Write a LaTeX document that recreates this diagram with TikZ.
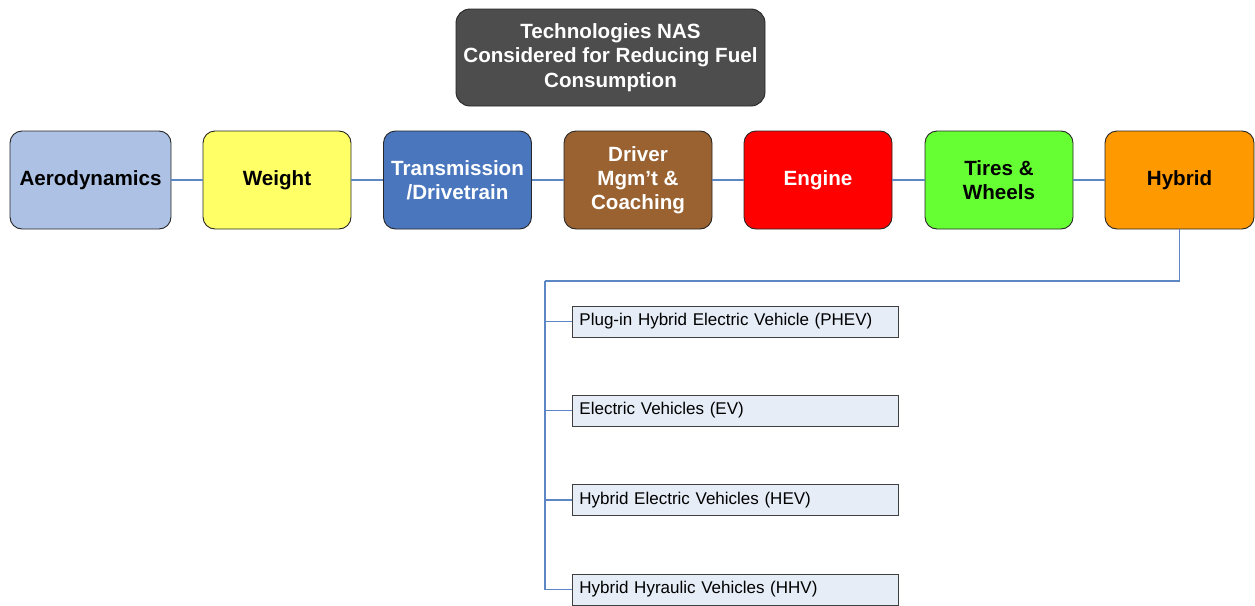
\documentclass[tikz,border=0pt]{standalone}
\usepackage{fontspec}
\setmainfont{Liberation Sans}
\definecolor{topgray}{RGB}{77,77,77}
\definecolor{aerocol}{RGB}{172,193,227}
\definecolor{weightcol}{RGB}{255,255,102}
\definecolor{transcol}{RGB}{74,118,190}
\definecolor{drivercol}{RGB}{153,98,48}
\definecolor{enginecol}{RGB}{255,0,0}
\definecolor{tirecol}{RGB}{102,255,51}
\definecolor{hybridcol}{RGB}{255,153,0}
\definecolor{subfill}{RGB}{230,237,247}
\definecolor{linkcol}{RGB}{92,134,196}
\begin{document}
\begin{tikzpicture}[x=1pt,y=-1pt,
    techbox/.style={draw=black!85, line width=0.9pt, rounded corners=12pt,
      minimum width=148pt, minimum height=98pt, inner sep=2pt, align=center,
      font=\fontsize{20.6}{24.2}\selectfont\bfseries},
    headbox/.style={techbox, fill=topgray, text=white, minimum width=309pt,
      minimum height=97pt, rounded corners=14pt},
    subbox/.style={draw=black!75, line width=0.9pt, fill=subfill, anchor=west,
      minimum height=31pt, inner xsep=7pt, inner ysep=0pt, text width=312pt,
      align=left, font=\fontsize{17}{20}\selectfont},
    link/.style={draw=linkcol, line width=1.1pt}]
\useasboundingbox (0,0) rectangle (1255,605);
% heading
\node[headbox] (head) at (610.5,57.5) {Technologies NAS\\Considered for Reducing Fuel\\Consumption};
% row of technologies
\node[techbox, fill=aerocol, minimum width=161pt] (aero) at (90.5,180) {Aerodynamics};
\node[techbox, fill=weightcol] (weight) at (277,180) {Weight};
\node[techbox, fill=transcol, text=white] (trans) at (457.5,180) {Transmission\\/Drivetrain};
\node[techbox, fill=drivercol, text=white] (driver) at (638,180) {Driver\\Mgm’t \&\\Coaching};
\node[techbox, fill=enginecol, text=white] (engine) at (818,180) {Engine};
\node[techbox, fill=tirecol] (tires) at (999,180) {Tires \&\\Wheels};
\node[techbox, fill=hybridcol, minimum width=149pt] (hybrid) at (1179.5,180) {Hybrid};
\draw[link] (aero) -- (weight);
\draw[link] (weight) -- (trans);
\draw[link] (trans) -- (driver);
\draw[link] (driver) -- (engine);
\draw[link] (engine) -- (tires);
\draw[link] (tires) -- (hybrid);
% hybrid types
\node[subbox] (phev) at (572,321.5) {Plug-in Hybrid Electric Vehicle (PHEV)};
\node[subbox] (ev) at (572,410.5) {Electric Vehicles (EV)};
\node[subbox] (hev) at (572,500) {Hybrid Electric Vehicles (HEV)};
\node[subbox] (hhv) at (572,589.5) {Hybrid Hyraulic Vehicles (HHV)};
\coordinate (bus) at (545,281);
\draw[link] (hybrid.south) |- (bus);
\foreach \n in {phev,ev,hev,hhv}
  \draw[link] (bus) |- (\n.west);
\end{tikzpicture}
\end{document}
